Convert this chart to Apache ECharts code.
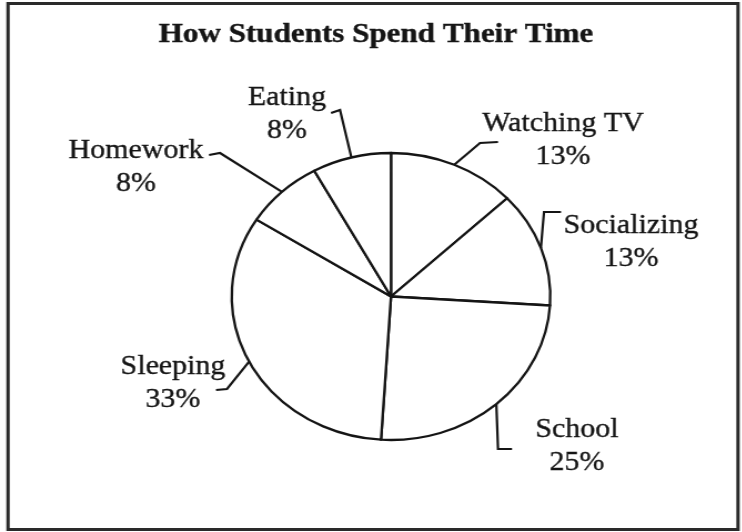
<!DOCTYPE html>
<html>
<head>
<meta charset="utf-8">
<script src="https://cdn.jsdelivr.net/npm/echarts@6/dist/echarts.min.js"></script>
<style>
  html, body { margin: 0; padding: 0; background: #fff; overflow: hidden; }
  #wrap { width: 742px; height: 532px; overflow: hidden; position: relative; }
  #chart { position: absolute; left: 0; top: 0; height: 532px; transform-origin: 0 0; }
</style>
</head>
<body>
<div id="wrap"><div id="chart"></div></div>
<script>
// ---- data ----
const title = 'How Students Spend Their Time';
const categories = ['Watching TV', 'Socializing', 'School', 'Sleeping', 'Homework', 'Eating'];
const percentValues = [13, 13, 25, 33, 8, 8];

// ---- layout (scanned original is stretched horizontally) ----
const S = 1.11;                       // horizontal stretch of the scan
const W = 742 / S;
const chartEl = document.getElementById('chart');
chartEl.style.width = W + 'px';
chartEl.style.transform = 'scaleX(' + S + ')';

// label placement in page pixels: text centre, elbow and end of leader line
const labelPlaces = [
  { c: [563, 140], elbow: [480, 143], end: [498, 142] },
  { c: [631, 242], elbow: [544, 212], end: [561, 212] },
  { c: [577, 446], elbow: [498, 449], end: [512, 449] },
  { c: [173, 383], elbow: [227, 389], end: [216, 390] },
  { c: [136, 167], elbow: [220, 153], end: [209, 155] },
  { c: [287, 114], elbow: [340, 110], end: [331, 113] }
];
const px = p => [p[0] / S, p[1]];

const FONT = '"Liberation Serif", "Times New Roman", serif';
const INK = '#151515';

const chart = echarts.init(chartEl, null, { renderer: 'canvas' });
chart.setOption({
  animation: false,
  backgroundColor: '#fff',
  graphic: [
    {
      type: 'rect',
      shape: { x: 8 / S, y: 3.5, width: (738 - 8) / S, height: 526 },
      style: { fill: 'none', stroke: '#2a2a2a', lineWidth: 3 },
      silent: true
    },
    {
      type: 'text',
      x: 376 / S, y: 35,
      style: {
        text: title, fill: INK, font: 'bold 28px ' + FONT,
        textAlign: 'center', textVerticalAlign: 'middle',
        stroke: INK, lineWidth: 0.4
      },
      silent: true
    }
  ],
  series: [{
    type: 'pie',
    center: [391 / S, 296.5],
    radius: 143.5,
    startAngle: 90,
    clockwise: true,
    silent: true,
    avoidLabelOverlap: false,
    data: categories.map((n, i) => ({ name: n, value: percentValues[i] })),
    itemStyle: { color: '#ffffff', borderColor: INK, borderWidth: 2.3 },
    label: {
      show: true,
      position: 'outside',
      formatter: p => p.name + '\n' + p.value + '%',
      fontFamily: FONT,
      fontSize: 27,
      lineHeight: 33,
      color: INK,
      textBorderColor: INK,
      textBorderWidth: 0.35,
      align: 'center'
    },
    labelLine: {
      show: true,
      length: 20,
      length2: 10,
      smooth: false,
      lineStyle: { color: INK, width: 2.2 }
    },
    labelLayout: function (params) {
      const lp = labelPlaces[params.dataIndex];
      const c = px(lp.c);
      const start = params.labelLinePoints ? params.labelLinePoints[0] : c;
      return {
        x: c[0], y: c[1],
        align: 'center', verticalAlign: 'middle',
        labelLinePoints: [start, px(lp.elbow), px(lp.end)]
      };
    },
    emphasis: { disabled: true }
  }]
});
</script>
</body>
</html>
